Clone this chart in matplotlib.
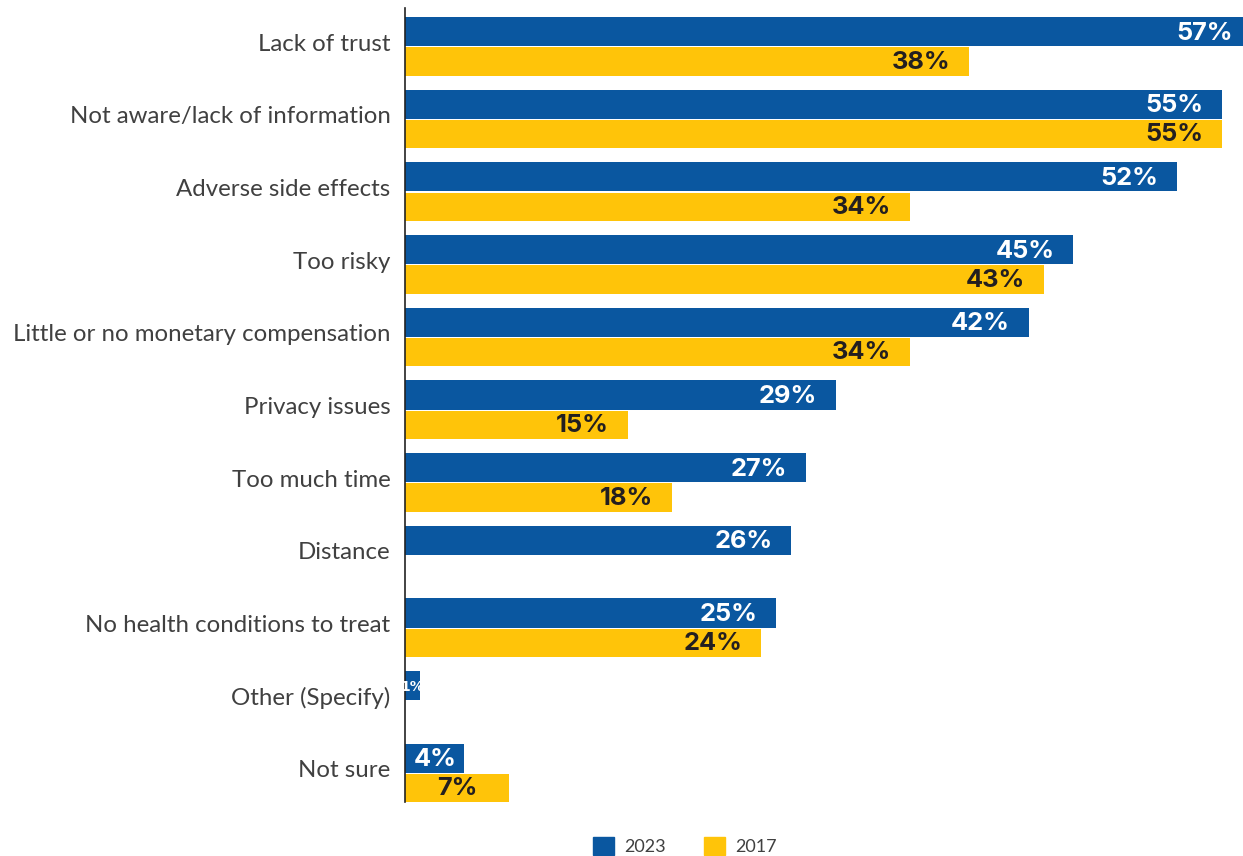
import matplotlib
matplotlib.use("Agg")
import matplotlib.pyplot as plt
import matplotlib.transforms as mtransforms
import numpy as np
from matplotlib.patches import Patch

categories = ["Lack of trust", "Not aware/lack of information", "Adverse side effects",
              "Too risky", "Little or no monetary compensation", "Privacy issues",
              "Too much time", "Distance", "No health conditions to treat",
              "Other (Specify)", "Not sure"]
values_2023 = [57, 55, 52, 45, 42, 29, 27, 26, 25, 1, 4]
values_2017 = [38, 55, 34, 43, 34, 15, 18, None, 24, None, 7]
series_names = ["2023", "2017"]

BLUE = "#0A57A0"
YELLOW = "#FFC409"
W, H = 1243, 856
fig = plt.figure(figsize=(W / 100, H / 100), dpi=100)
ax_left, ax_right = 405, 1243
ax_top, ax_bot = 8, 802
ax = fig.add_axes([ax_left / W, 1 - ax_bot / H, (ax_right - ax_left) / W, (ax_bot - ax_top) / H])

px_per_pct = 14.85
ax.set_xlim(0, (ax_right - ax_left) / px_per_pct)
ax.set_ylim(10.4, -0.524)

y = np.arange(len(categories))
bh = 0.4
for i, (v23, v17) in enumerate(zip(values_2023, values_2017)):
    ax.barh(i - bh / 2, v23, height=bh, color=BLUE, linewidth=0)
    if v17 is not None:
        ax.barh(i + bh / 2 + 0.01, v17, height=bh - 0.01, color=YELLOW, linewidth=0)

VAL_FONT = dict(fontsize=18.3, fontweight="bold", family="Inter")

def label(v, yy, color):
    if v is None:
        return
    if v <= 1:
        ax.text(v / 2, yy, f"{v}%", ha="center", va="center", color=color,
                fontsize=10, fontweight="bold",
                family=["Liberation Sans Narrow", "DejaVu Sans"])
    elif v < 10:
        ax.text(v / 2, yy, f"{v}%", ha="center", va="center", color=color, **VAL_FONT)
    else:
        ax.annotate(f"{v}%", xy=(v, yy), xytext=(-13.5, 0), textcoords="offset points",
                    ha="right", va="center", color=color, annotation_clip=False, **VAL_FONT)

for i, (v23, v17) in enumerate(zip(values_2023, values_2017)):
    label(v23, i - bh / 2 + 0.02, "white")
    label(v17, i + bh / 2 + 0.02, "#231F20")

ax.set_yticks(y)
ax.set_yticklabels(categories, fontsize=17.3, color="#404040", family="Lato")
ax.tick_params(axis="y", length=0, pad=10.5)
shift = mtransforms.ScaledTranslation(0, 4 / 100, fig.dpi_scale_trans)
for t in ax.get_yticklabels():
    t.set_transform(t.get_transform() + shift)
ax.set_xticks([])
for s in ["top", "right", "bottom"]:
    ax.spines[s].set_visible(False)
ax.spines["left"].set_color("#222222")
ax.spines["left"].set_linewidth(1.2)

handles = [Patch(color=BLUE, label=series_names[0]), Patch(color=YELLOW, label=series_names[1])]
fig.legend(handles=handles, loc="center", bbox_to_anchor=(685 / W, 1 - 846 / H), ncol=2,
           frameon=False, handlelength=1.15, handleheight=1.2, columnspacing=2.1,
           handletextpad=0.6, prop={"family": "Lato", "size": 13}, labelcolor="#404040")

fig.savefig("out.png", dpi=100)
